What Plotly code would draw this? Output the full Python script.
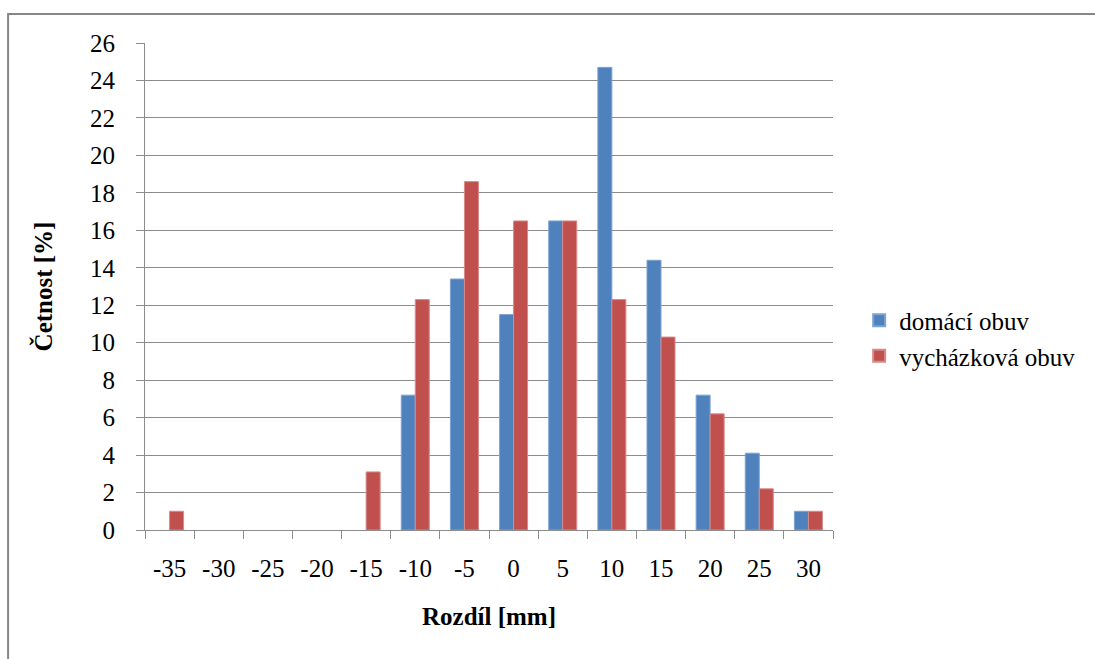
import plotly.graph_objects as go

categories = ["-35", "-30", "-25", "-20", "-15", "-10", "-5", "0", "5", "10", "15", "20", "25", "30"]
domaci = [0, 0, 0, 0, 0, 7.2, 13.4, 11.5, 16.5, 24.7, 14.4, 7.2, 4.1, 1.0]
vychazkova = [1.0, 0, 0, 0, 3.1, 12.3, 18.6, 16.5, 16.5, 12.3, 10.3, 6.2, 2.2, 1.0]
y_ticks = list(range(0, 27, 2))

FONT = "Liberation Serif"
GRID = "#8c8c8c"


def edge_widths(vals):
    return [1 if v > 0 else 0 for v in vals]


fig = go.Figure()
fig.add_trace(go.Bar(x=categories, y=domaci, name="domácí obuv",
                     marker=dict(color="#4F81BD",
                                 line=dict(color="#7ea3d3", width=edge_widths(domaci)))))
fig.add_trace(go.Bar(x=categories, y=vychazkova, name="vycházková obuv",
                     marker=dict(color="#C0504D",
                                 line=dict(color="#d88a88", width=edge_widths(vychazkova)))))

fig.update_layout(
    width=1095, height=659,
    margin=dict(l=145, r=262, t=43, b=129),
    paper_bgcolor="white", plot_bgcolor="white",
    barmode="group", bargap=0.43, bargroupgap=0,
    font=dict(family=FONT, size=25, color="black"),
    showlegend=True,
    legend=dict(x=1.038, y=0.394, xanchor="left", yanchor="middle",
                font=dict(family=FONT, size=25, color="black"), itemsizing="constant",
                traceorder="normal", itemwidth=30),
    shapes=[dict(type="rect", xref="paper", yref="paper",
                 x0=-0.199, x1=1.6, y0=-0.5, y1=1.0595,
                 line=dict(color="#868686", width=2), fillcolor="rgba(0,0,0,0)", layer="below")],
)
fig.update_xaxes(
    type="category", categoryorder="array", categoryarray=categories,
    showline=True, linecolor=GRID, linewidth=1,
    ticks="outside", tickson="boundaries", ticklen=8, tickcolor=GRID,
    showgrid=False, ticklabelstandoff=16,
    tickfont=dict(family=FONT, size=25, color="black"),
    title=dict(text="<b>Rozdíl [mm]</b>", font=dict(family=FONT, size=25, color="black"), standoff=26),
)
fig.update_yaxes(
    range=[0, 26], tickvals=y_ticks, ticktext=[str(v) for v in y_ticks],
    showline=True, linecolor=GRID, linewidth=1,
    ticks="outside", ticklen=8, tickcolor=GRID,
    showgrid=True, gridcolor=GRID, gridwidth=1, zeroline=False,
    ticklabelstandoff=16,
    tickfont=dict(family=FONT, size=25, color="black"),
    title=dict(text="<b>Četnost [%]</b>", font=dict(family=FONT, size=25, color="black"), standoff=30),
)

fig.write_html("out.html")
